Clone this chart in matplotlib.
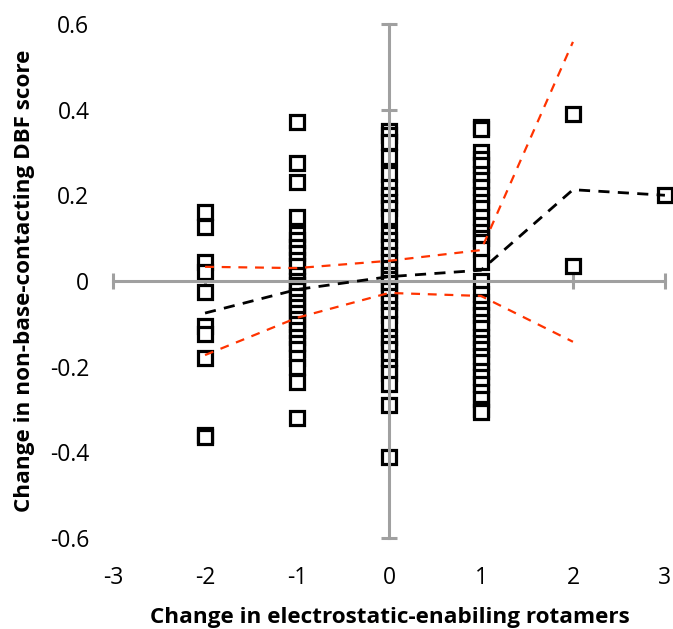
import matplotlib
matplotlib.use('Agg')
import matplotlib.pyplot as plt
from matplotlib.ticker import FuncFormatter

# 散点数据（按x分组）
pts_m2 = [0.16, 0.125, 0.045, 0.02, -0.025, -0.105, -0.125, -0.18, -0.36, -0.365]
pts_m1 = [0.37, 0.275, 0.23, 0.15, 0.11, 0.095, 0.08, 0.065, 0.05, 0.035, 0.015, 0.0,
          -0.01, -0.02, -0.035, -0.05, -0.06, -0.075, -0.09, -0.1, -0.115, -0.13,
          -0.145, -0.16, -0.18, -0.2, -0.235, -0.32]
pts_0 = [0.35, 0.34, 0.325, 0.29, 0.25, 0.22, 0.2, 0.185, 0.17, 0.15, 0.11, 0.095,
         0.08, 0.06, 0.045, 0.03, 0.015, 0.005, -0.005, -0.02, -0.035, -0.05, -0.065,
         -0.08, -0.1, -0.13, -0.145, -0.16, -0.18, -0.2, -0.215, -0.24, -0.29, -0.41]
pts_p1 = [0.36, 0.355, 0.3, 0.285, 0.27, 0.25, 0.235, 0.22, 0.2, 0.185, 0.17, 0.15,
          0.13, 0.115, 0.1, 0.09, 0.075, 0.045, 0.0, -0.03, -0.05, -0.065, -0.08,
          -0.095, -0.11, -0.13, -0.145, -0.16, -0.175, -0.19, -0.21, -0.225, -0.24,
          -0.26, -0.275, -0.3, -0.305]
pts_p2 = [0.39, 0.035]
pts_p3 = [0.2]
groups = {-2: pts_m2, -1: pts_m1, 0: pts_0, 1: pts_p1, 2: pts_p2, 3: pts_p3}

# 均值线与上下界
mean_x = [-2, -1, 0, 1, 2, 3]
mean_y = [-0.075, -0.02, 0.01, 0.025, 0.213, 0.2]
band_x = [-2, -1, 0, 1, 2]
upper_y = [0.033, 0.03, 0.047, 0.072, 0.558]
lower_y = [-0.173, -0.086, -0.028, -0.035, -0.142]

xticks = [-3, -2, -1, 0, 1, 2, 3]
yticks = [-0.6, -0.4, -0.2, 0, 0.2, 0.4, 0.6]

plt.rcParams['font.family'] = ['Open Sans', 'DejaVu Sans']

fig = plt.figure(figsize=(6.73, 6.29), dpi=100)
ax = fig.add_axes([0.168, 0.1447, 0.82, 0.8173])

xs, ys = [], []
for k, v in groups.items():
    xs += [k] * len(v)
    ys += v
ax.plot(xs, ys, linestyle='none', marker='s', markersize=9.8,
        markerfacecolor='white', markeredgecolor='black', markeredgewidth=2.3,
        zorder=2, clip_on=False)

ax.plot(mean_x, mean_y, color='black', lw=2, dashes=(4, 3), zorder=4, clip_on=False)
ax.plot(band_x, upper_y, color='#ff3300', lw=1.6, dashes=(4, 3.5), zorder=4, clip_on=False)
ax.plot(band_x, lower_y, color='#ff3300', lw=1.6, dashes=(4, 3.5), zorder=4, clip_on=False)

ax.set_xlim(-3, 3)
ax.set_ylim(-0.6, 0.6)

gray = '#a0a0a0'
for s in ['right', 'top']:
    ax.spines[s].set_visible(False)
for s in ['left', 'bottom']:
    ax.spines[s].set_position('zero')
    ax.spines[s].set_color(gray)
    ax.spines[s].set_linewidth(2.2)
    ax.spines[s].set_zorder(3)
ax.set_xticks(xticks)
ax.set_yticks(yticks)
ax.tick_params(direction='inout', length=12, width=2.2, color=gray,
               labelleft=False, labelbottom=False)

fmt = FuncFormatter(lambda v, p: '0' if abs(v) < 1e-9 else f'{v:g}')
sy = ax.secondary_yaxis('left')
sy.set_yticks(yticks)
sy.yaxis.set_major_formatter(fmt)
sy.spines['left'].set_visible(False)
sy.tick_params(length=0, pad=17, labelsize=16.5)
sx = ax.secondary_xaxis('bottom')
sx.set_xticks(xticks)
sx.xaxis.set_major_formatter(fmt)
sx.spines['bottom'].set_visible(False)
sx.tick_params(length=0, pad=20, labelsize=16.5)

# 轴标题
fig.text(0.037, 0.553, 'Change in non-base-contacting DBF score', fontsize=16.2,
         fontweight='bold', rotation=90, ha='center', va='center')
fig.text(0.5795, 0.0095, 'Change in electrostatic-enabiling rotamers', fontsize=16.2,
         fontweight='bold', ha='center', va='baseline')

plt.savefig('out.png', dpi=100)
